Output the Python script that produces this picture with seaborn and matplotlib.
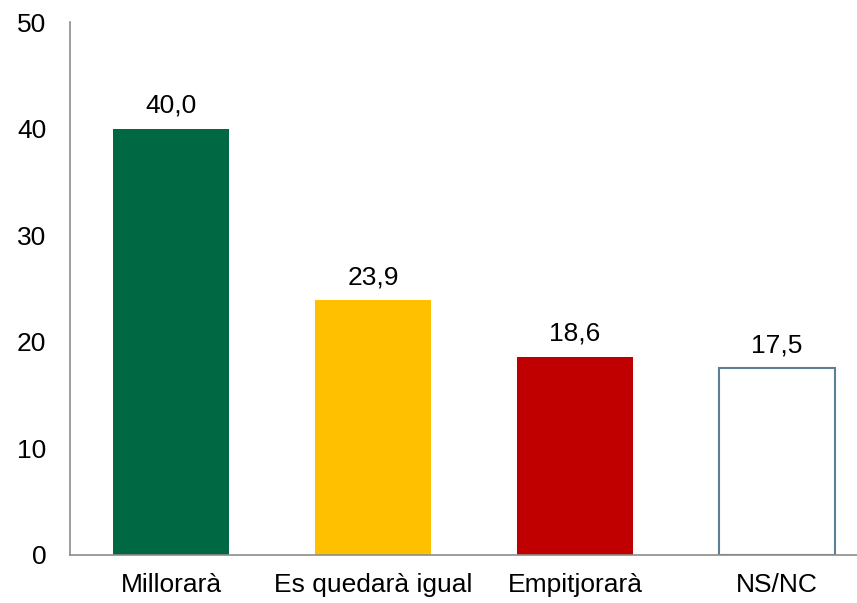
import matplotlib
matplotlib.use("Agg")
import matplotlib.pyplot as plt
import seaborn as sns
import pandas as pd

categories = ["Millorarà", "Es quedarà igual", "Empitjorarà", "NS/NC"]
values = [40.0, 23.9, 18.6, 17.5]
value_labels = ["40,0", "23,9", "18,6", "17,5"]
y_ticks = [0, 10, 20, 30, 40, 50]

sns.set_theme(style="white")
plt.rcParams['font.family'] = ['Liberation Sans', 'DejaVu Sans']
plt.rcParams['text.color'] = 'black'
plt.rcParams['xtick.color'] = 'black'
plt.rcParams['ytick.color'] = 'black'

df = pd.DataFrame({"cat": categories, "val": values})
fig = plt.figure(figsize=(8.57, 6.03), dpi=100)
ax = fig.add_axes([70/857, 48/603, 787/857, 533/603])
sns.barplot(data=df, x="cat", y="val", ax=ax, width=0.574, order=categories)

fills = ["#006843", "#FFC000", "#C00000", "white"]
edges = ["#006843", "#FFC000", "#C00000", "#5B7F95"]
for p, f, e in zip(ax.patches, fills, edges):
    p.set_facecolor(f)
    p.set_edgecolor(e)
    p.set_linewidth(1.5 if f == "white" else 0)

for i, (v, t) in enumerate(zip(values, value_labels)):
    ax.text(i, v + 1.5, t, ha="center", va="baseline", fontsize=19, color="black")

ax.set_xlim(-0.5, -0.5 + 787/202)
ax.set_ylim(0, 50)
ax.set_yticks(y_ticks)
ax.set_yticklabels([str(t) for t in y_ticks])
ax.tick_params(axis="y", labelsize=19, length=0, pad=17, labelcolor="black")
ax.tick_params(axis="x", labelsize=19, length=0, pad=13, labelcolor="black")
ax.set_xlabel("")
ax.set_ylabel("")
for s in ["top", "right"]:
    ax.spines[s].set_visible(False)
for s in ["left", "bottom"]:
    ax.spines[s].set_color("#8C8C8C")
    ax.spines[s].set_linewidth(1.2)
ax.grid(False)

fig.savefig("out.png", dpi=100)
